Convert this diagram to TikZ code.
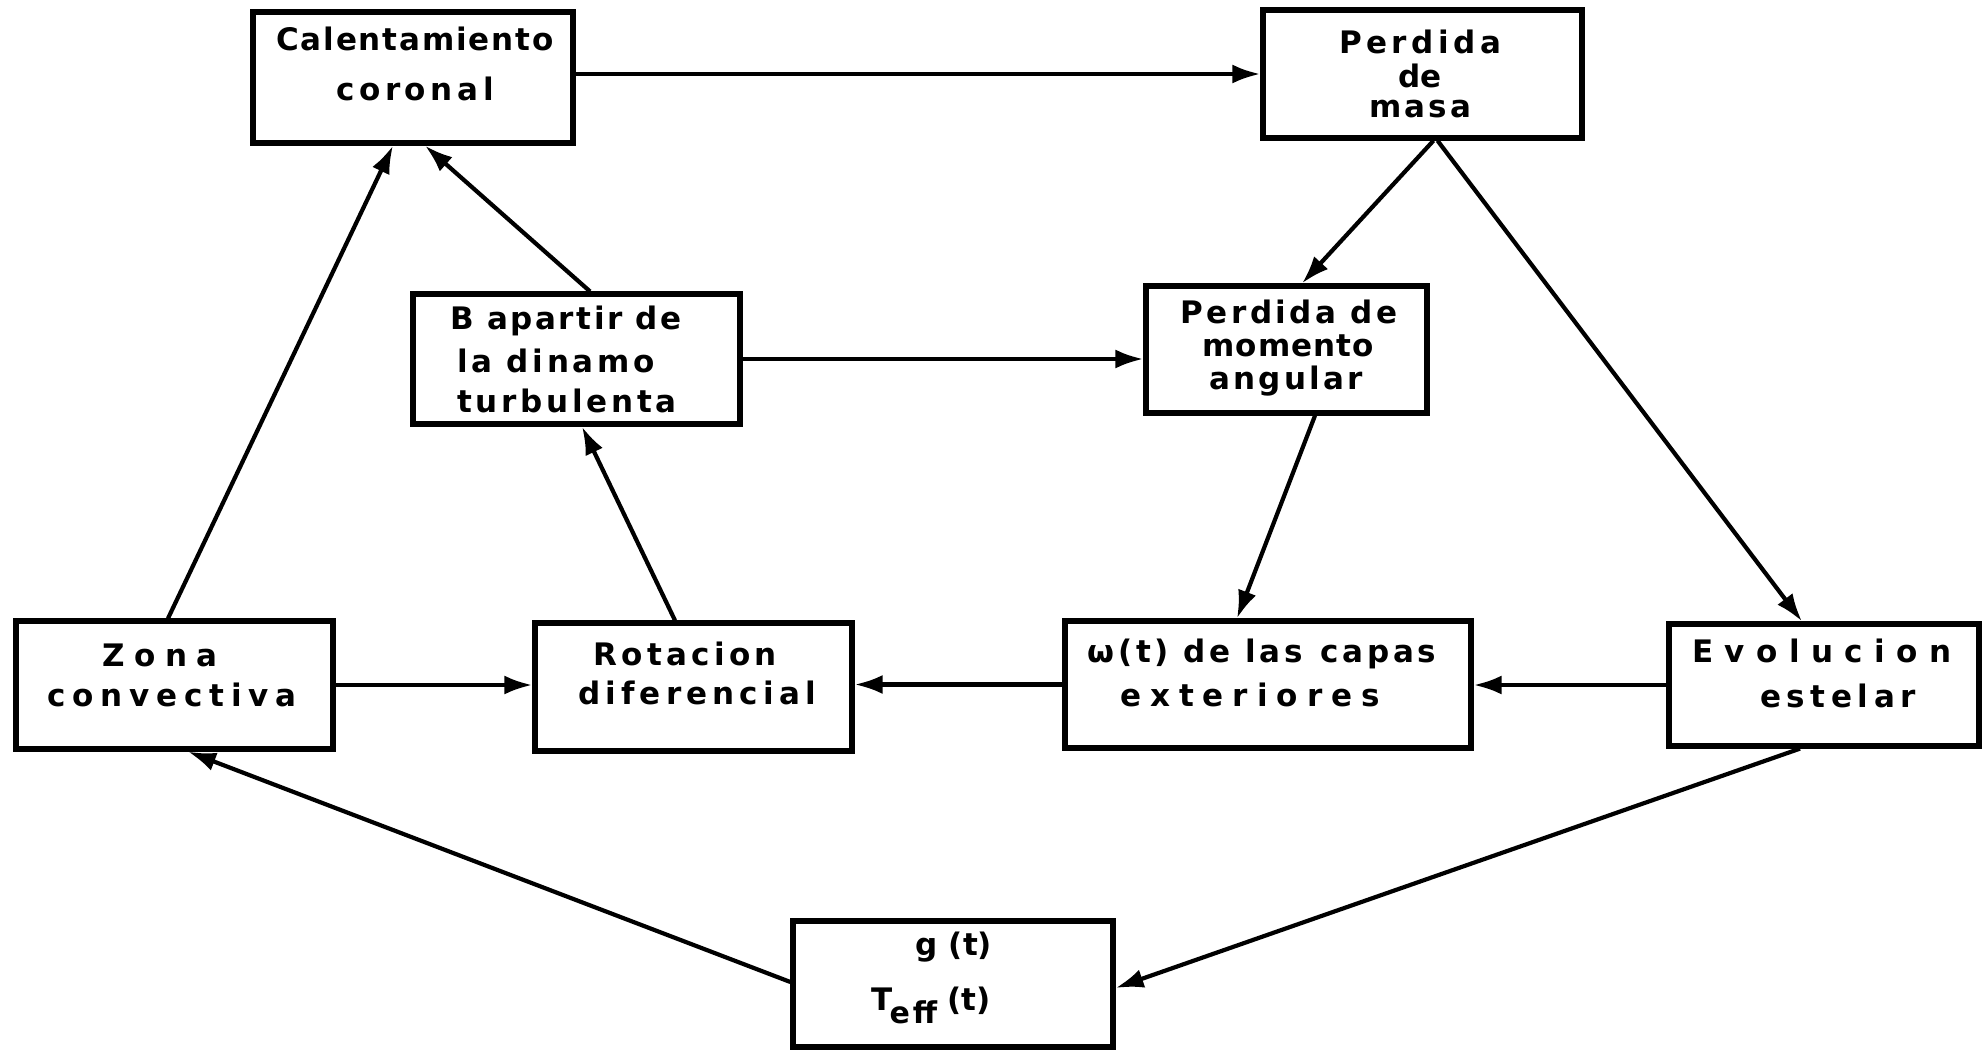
\documentclass[tikz,border=0pt]{standalone}
\usepackage{fontspec}
\newfontfamily\lab{DejaVu Sans}
\usetikzlibrary{arrows.meta}
\begin{document}
\begin{tikzpicture}[x=0.5pt,y=-0.5pt,
  box/.style={draw, line width=2.6pt, rectangle, inner sep=0pt},
  lbl/.style={inner sep=0pt, anchor=base, font=\lab\bfseries\fontsize{15.5}{15.5}\selectfont},
  arr/.style={line width=2.1pt, -{Latex[length=14pt,width=9.5pt]}}]
\useasboundingbox (0,0) rectangle (1988,1051);
% boxes
\node[box, minimum width=160pt, minimum height=65.5pt] (cal) at (413,77.5) {};
\node[box, minimum width=159.5pt, minimum height=64pt] (masa) at (1422.5,74) {};
\node[box, minimum width=163.5pt, minimum height=65pt] (bdin) at (576.5,359) {};
\node[box, minimum width=140.5pt, minimum height=63.5pt] (mom) at (1286.5,349.5) {};
\node[box, minimum width=158.5pt, minimum height=64pt] (zona) at (174.5,685) {};
\node[box, minimum width=158.5pt, minimum height=64pt] (rot) at (693.5,687) {};
\node[box, minimum width=203pt, minimum height=63.5pt] (omega) at (1268,684.5) {};
\node[box, minimum width=155pt, minimum height=61pt] (evo) at (1824,685) {};
\node[box, minimum width=160pt, minimum height=63pt] (gt) at (953,984) {};
% texts
\node[lbl] (cal1) at (415,50) {\addfontfeature{LetterSpace=6}Calentamiento};
\node[lbl] (cal2) at (415,100) {\addfontfeature{LetterSpace=15}coronal};
\node[lbl] (masa1) at (1420,53) {\addfontfeature{LetterSpace=14.5}Perdida};
\node[lbl] (masa2) at (1420,87) {de};
\node[lbl] (masa3) at (1420,117) {\addfontfeature{LetterSpace=10}masa};
\node[lbl] (bdin1) at (566,329) {\addfontfeature{LetterSpace=8}B apartir de};
\node[lbl] (bdin2) at (556,372) {\addfontfeature{LetterSpace=12}la dinamo};
\node[lbl] (bdin3) at (567,412) {\addfontfeature{LetterSpace=12}turbulenta};
\node[lbl] (mom1) at (1289,323) {\addfontfeature{LetterSpace=11}Perdida de};
\node[lbl] (mom2) at (1288,356) {\addfontfeature{LetterSpace=3}momento};
\node[lbl] (mom3) at (1286,389) {\addfontfeature{LetterSpace=10}angular};
\node[lbl] (zona1) at (160,666) {\addfontfeature{LetterSpace=30}Zona};
\node[lbl] (zona2) at (172,706) {\addfontfeature{LetterSpace=22}convectiva};
\node[lbl] (rot1) at (685,665) {\addfontfeature{LetterSpace=14}Rotacion};
\node[lbl] (rot2) at (697,704) {\addfontfeature{LetterSpace=16.5}diferencial};
\node[lbl] (om1) at (1262,662) {\addfontfeature{LetterSpace=12}ω(t) de las\hspace{9pt}capas};
\node[lbl] (om2) at (1250,706) {\addfontfeature{LetterSpace=29}exteriores};
\node[lbl] (evo1) at (1822,662) {\addfontfeature{LetterSpace=37}Evolucion};
\node[lbl] (evo2) at (1838,707) {\addfontfeature{LetterSpace=18}estelar};
\node[lbl] (gt1) at (954,955) {g (t)};
\node[lbl, anchor=base west] (gt2) at (871,1010) {T\hspace{-1.5pt}\raisebox{-6.5pt}{\addfontfeature{LetterSpace=10}\fontsize{15}{15}\selectfont eff}\hspace{5pt}(t)};
% connectors
\draw[arr] (cal.east |- masa.west) -- (masa.west);
\draw[arr] ([xshift=5.5pt]masa.south) -- ([xshift=7.75pt]mom.north);
\draw[arr] ([xshift=7.5pt]masa.south) -- ([xshift=-11pt]evo.north);
\draw[arr] (bdin.east) -- (bdin.east -| mom.west);
\draw[arr] ([xshift=6.75pt]bdin.north) -- ([xshift=6pt]cal.south);
\draw[arr] ([xshift=-3.25pt]zona.north) -- ([xshift=-10pt]cal.south);
\draw[arr] ([xshift=-9.25pt]rot.north) -- ([xshift=2.75pt]bdin.south);
\draw[arr] ([xshift=14.25pt]mom.south) -- ([xshift=-15.5pt]omega.north);
\draw[arr] (zona.east) -- (zona.east -| rot.west);
\draw[arr] (omega.west) -- (omega.west -| rot.east);
\draw[arr] (evo.west) -- (evo.west -| omega.east);
\draw[arr] ([xshift=-12pt]evo.south) -- ([yshift=-2pt]gt.east);
\draw[arr] ([yshift=1pt]gt.west) -- ([xshift=6.75pt]zona.south);
\end{tikzpicture}
\end{document}
